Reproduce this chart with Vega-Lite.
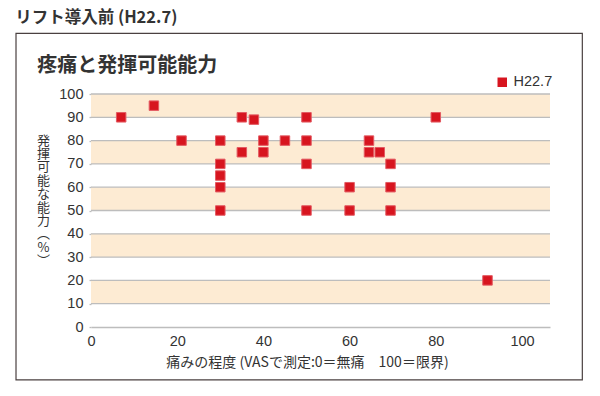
{
  "$schema": "https://vega.github.io/schema/vega-lite/v6.json",
  "autosize": {"type": "none"},
  "padding": {"left": 91, "top": 94, "right": 50, "bottom": 69},
  "width": 459,
  "height": 233,
  "background": "#ffffff",
  "config": {
    "view": {"stroke": null},
    "font": "Liberation Sans, Noto Sans CJK JP",
    "text": {"font": "Noto Sans CJK JP"}
  },
  "datasets": {
    "points": [
      {"pain": 7, "ability": 90, "series": "H22.7"},
      {"pain": 14.6, "ability": 95, "series": "H22.7"},
      {"pain": 21, "ability": 80, "series": "H22.7"},
      {"pain": 30, "ability": 80, "series": "H22.7"},
      {"pain": 30, "ability": 70, "series": "H22.7"},
      {"pain": 30, "ability": 65, "series": "H22.7"},
      {"pain": 30, "ability": 60, "series": "H22.7"},
      {"pain": 30, "ability": 50, "series": "H22.7"},
      {"pain": 35, "ability": 90, "series": "H22.7"},
      {"pain": 35, "ability": 75, "series": "H22.7"},
      {"pain": 37.8, "ability": 89, "series": "H22.7"},
      {"pain": 40, "ability": 80, "series": "H22.7"},
      {"pain": 40, "ability": 75, "series": "H22.7"},
      {"pain": 45, "ability": 80, "series": "H22.7"},
      {"pain": 50, "ability": 90, "series": "H22.7"},
      {"pain": 50, "ability": 80, "series": "H22.7"},
      {"pain": 50, "ability": 70, "series": "H22.7"},
      {"pain": 50, "ability": 50, "series": "H22.7"},
      {"pain": 60, "ability": 60, "series": "H22.7"},
      {"pain": 60, "ability": 50, "series": "H22.7"},
      {"pain": 64.5, "ability": 80, "series": "H22.7"},
      {"pain": 64.5, "ability": 75, "series": "H22.7"},
      {"pain": 67, "ability": 75, "series": "H22.7"},
      {"pain": 69.5, "ability": 70, "series": "H22.7"},
      {"pain": 69.5, "ability": 60, "series": "H22.7"},
      {"pain": 69.5, "ability": 50, "series": "H22.7"},
      {"pain": 80, "ability": 90, "series": "H22.7"},
      {"pain": 92, "ability": 20, "series": "H22.7"}
    ],
    "bands": [
      {"lo": 10, "hi": 20},
      {"lo": 30, "hi": 40},
      {"lo": 50, "hi": 60},
      {"lo": 70, "hi": 80},
      {"lo": 90, "hi": 100}
    ]
  },
  "layer": [
    {
      "data": {"name": "bands"},
      "mark": {"type": "rect", "fill": "#fdebd3"},
      "encoding": {
        "y": {"field": "lo", "type": "quantitative", "scale": {"domain": [0, 100], "nice": false},
          "axis": {
            "values": [0, 10, 20, 30, 40, 50, 60, 70, 80, 90, 100],
            "grid": false, "domain": false, "labelOverlap": false,
            "ticks": true, "tickSize": 2, "tickColor": "#bdbdbd", "tickWidth": 1.3,
            "labelFontSize": 14.5, "labelColor": "#333333", "labelPadding": 6,
            "labelFont": "Liberation Sans",
            "title": ["発", "揮", "可", "能", "な", "能", "力", "︵", "%", "︶"],
            "titleFont": "Noto Sans CJK JP", "titleFontSize": 13, "titleFontWeight": "normal",
            "titleColor": "#333333", "titleAngle": 0, "titleAlign": "center",
            "titleBaseline": "top", "titleLineHeight": 13.4,
            "titleX": -48, "titleY": 40
          }
        },
        "y2": {"field": "hi"}
      }
    },
    {
      "data": {"name": "bands"},
      "mark": {"type": "rule", "stroke": "#bdbdbd", "strokeWidth": 1.3},
      "encoding": {"y": {"field": "lo", "type": "quantitative",
          "axis": {
            "values": [0, 10, 20, 30, 40, 50, 60, 70, 80, 90, 100],
            "grid": false, "domain": false, "labelOverlap": false,
            "ticks": true, "tickSize": 2, "tickColor": "#bdbdbd", "tickWidth": 1.3,
            "labelFontSize": 14.5, "labelColor": "#333333", "labelPadding": 6,
            "labelFont": "Liberation Sans",
            "title": ["発", "揮", "可", "能", "な", "能", "力", "︵", "%", "︶"],
            "titleFont": "Noto Sans CJK JP", "titleFontSize": 13, "titleFontWeight": "normal",
            "titleColor": "#333333", "titleAngle": 0, "titleAlign": "center",
            "titleBaseline": "top", "titleLineHeight": 13.4,
            "titleX": -48, "titleY": 40
          }}}
    },
    {
      "data": {"name": "bands"},
      "mark": {"type": "rule", "stroke": "#bdbdbd", "strokeWidth": 1.3},
      "encoding": {"y": {"field": "hi", "type": "quantitative",
          "axis": {
            "values": [0, 10, 20, 30, 40, 50, 60, 70, 80, 90, 100],
            "grid": false, "domain": false, "labelOverlap": false,
            "ticks": true, "tickSize": 2, "tickColor": "#bdbdbd", "tickWidth": 1.3,
            "labelFontSize": 14.5, "labelColor": "#333333", "labelPadding": 6,
            "labelFont": "Liberation Sans",
            "title": ["発", "揮", "可", "能", "な", "能", "力", "︵", "%", "︶"],
            "titleFont": "Noto Sans CJK JP", "titleFontSize": 13, "titleFontWeight": "normal",
            "titleColor": "#333333", "titleAngle": 0, "titleAlign": "center",
            "titleBaseline": "top", "titleLineHeight": 13.4,
            "titleX": -48, "titleY": 40
          }}}
    },
    {
      "data": {"name": "points"},
      "mark": {"type": "point", "shape": "square", "filled": true, "opacity": 1, "size": 90, "stroke": "#e35a62", "strokeWidth": 1},
      "encoding": {
        "x": {"field": "pain", "type": "quantitative",
          "scale": {"domain": [0, 106.5], "nice": false},
          "axis": {
            "values": [0, 20, 40, 60, 80, 100],
            "grid": false, "ticks": false, "tickSize": 0, "labelFlush": false, "labelOverlap": false,
            "domain": true, "domainColor": "#bdbdbd", "domainWidth": 1.3,
            "labelFontSize": 14.5, "labelColor": "#333333", "labelPadding": 7,
            "labelFont": "Liberation Sans",
            "title": "痛みの程度 (VASで測定:0＝無痛　100＝限界)",
            "titleFont": "Noto Sans CJK JP", "titleFontSize": 14, "titleFontWeight": "normal",
            "titleColor": "#333333", "titleX": 216, "titleY": 35, "titleBaseline": "middle", "titleAlign": "center"
          }
        },
        "y": {"field": "ability", "type": "quantitative",
          "axis": {
            "values": [0, 10, 20, 30, 40, 50, 60, 70, 80, 90, 100],
            "grid": false, "domain": false, "labelOverlap": false,
            "ticks": true, "tickSize": 2, "tickColor": "#bdbdbd", "tickWidth": 1.3,
            "labelFontSize": 14.5, "labelColor": "#333333", "labelPadding": 6,
            "labelFont": "Liberation Sans",
            "title": ["発", "揮", "可", "能", "な", "能", "力", "︵", "%", "︶"],
            "titleFont": "Noto Sans CJK JP", "titleFontSize": 13, "titleFontWeight": "normal",
            "titleColor": "#333333", "titleAngle": 0, "titleAlign": "center",
            "titleBaseline": "top", "titleLineHeight": 13.4,
            "titleX": -48, "titleY": 40
          }
        },
        "color": {"field": "series", "type": "nominal",
          "scale": {"domain": ["H22.7"], "range": ["#d7151f"]},
          "legend": {
            "orient": "none", "legendX": 404, "legendY": -19, "title": null,
            "symbolType": "square", "symbolSize": 90, "symbolStrokeWidth": 0,
            "labelFontSize": 14.5, "labelColor": "#333333", "labelFont": "Liberation Sans",
            "labelOffset": 4, "padding": 0
          }
        }
      }
    },
    {
      "data": {"values": [{}]},
      "mark": {"type": "rect", "fill": null, "stroke": "#4a4040", "strokeWidth": 1.2},
      "encoding": {
        "x": {"datum": -17.4,
          "axis": {
            "values": [0, 20, 40, 60, 80, 100],
            "grid": false, "ticks": false, "tickSize": 0, "labelFlush": false, "labelOverlap": false,
            "domain": true, "domainColor": "#bdbdbd", "domainWidth": 1.3,
            "labelFontSize": 14.5, "labelColor": "#333333", "labelPadding": 7,
            "labelFont": "Liberation Sans",
            "title": "痛みの程度 (VASで測定:0＝無痛　100＝限界)",
            "titleFont": "Noto Sans CJK JP", "titleFontSize": 14, "titleFontWeight": "normal",
            "titleColor": "#333333", "titleX": 216, "titleY": 35, "titleBaseline": "middle", "titleAlign": "center"
          }},
        "x2": {"datum": 114.0},
        "y": {"datum": 126.0,
          "axis": {
            "values": [0, 10, 20, 30, 40, 50, 60, 70, 80, 90, 100],
            "grid": false, "domain": false, "labelOverlap": false,
            "ticks": true, "tickSize": 2, "tickColor": "#bdbdbd", "tickWidth": 1.3,
            "labelFontSize": 14.5, "labelColor": "#333333", "labelPadding": 6,
            "labelFont": "Liberation Sans",
            "title": ["発", "揮", "可", "能", "な", "能", "力", "︵", "%", "︶"],
            "titleFont": "Noto Sans CJK JP", "titleFontSize": 13, "titleFontWeight": "normal",
            "titleColor": "#333333", "titleAngle": 0, "titleAlign": "center",
            "titleBaseline": "top", "titleLineHeight": 13.4,
            "titleX": -48, "titleY": 40
          }},
        "y2": {"datum": -22.7}
      }
    },
    {
      "data": {"values": [{}]},
      "mark": {"type": "text", "text": "リフト導入前 (H22.7)", "align": "left", "baseline": "middle", "fontSize": 16.5, "fontWeight": "bold", "color": "#333333"},
      "encoding": {
        "x": {"datum": -17.6,
          "axis": {
            "values": [0, 20, 40, 60, 80, 100],
            "grid": false, "ticks": false, "tickSize": 0, "labelFlush": false, "labelOverlap": false,
            "domain": true, "domainColor": "#bdbdbd", "domainWidth": 1.3,
            "labelFontSize": 14.5, "labelColor": "#333333", "labelPadding": 7,
            "labelFont": "Liberation Sans",
            "title": "痛みの程度 (VASで測定:0＝無痛　100＝限界)",
            "titleFont": "Noto Sans CJK JP", "titleFontSize": 14, "titleFontWeight": "normal",
            "titleColor": "#333333", "titleX": 216, "titleY": 35, "titleBaseline": "middle", "titleAlign": "center"
          }},
        "y": {"datum": 132.6,
          "axis": {
            "values": [0, 10, 20, 30, 40, 50, 60, 70, 80, 90, 100],
            "grid": false, "domain": false, "labelOverlap": false,
            "ticks": true, "tickSize": 2, "tickColor": "#bdbdbd", "tickWidth": 1.3,
            "labelFontSize": 14.5, "labelColor": "#333333", "labelPadding": 6,
            "labelFont": "Liberation Sans",
            "title": ["発", "揮", "可", "能", "な", "能", "力", "︵", "%", "︶"],
            "titleFont": "Noto Sans CJK JP", "titleFontSize": 13, "titleFontWeight": "normal",
            "titleColor": "#333333", "titleAngle": 0, "titleAlign": "center",
            "titleBaseline": "top", "titleLineHeight": 13.4,
            "titleX": -48, "titleY": 40
          }}
      }
    },
    {
      "data": {"values": [{}]},
      "mark": {"type": "text", "text": "疼痛と発揮可能能力", "align": "left", "baseline": "middle", "fontSize": 20, "fontWeight": "bold", "color": "#333333"},
      "encoding": {
        "x": {"datum": -12.5,
          "axis": {
            "values": [0, 20, 40, 60, 80, 100],
            "grid": false, "ticks": false, "tickSize": 0, "labelFlush": false, "labelOverlap": false,
            "domain": true, "domainColor": "#bdbdbd", "domainWidth": 1.3,
            "labelFontSize": 14.5, "labelColor": "#333333", "labelPadding": 7,
            "labelFont": "Liberation Sans",
            "title": "痛みの程度 (VASで測定:0＝無痛　100＝限界)",
            "titleFont": "Noto Sans CJK JP", "titleFontSize": 14, "titleFontWeight": "normal",
            "titleColor": "#333333", "titleX": 216, "titleY": 35, "titleBaseline": "middle", "titleAlign": "center"
          }},
        "y": {"datum": 112.2,
          "axis": {
            "values": [0, 10, 20, 30, 40, 50, 60, 70, 80, 90, 100],
            "grid": false, "domain": false, "labelOverlap": false,
            "ticks": true, "tickSize": 2, "tickColor": "#bdbdbd", "tickWidth": 1.3,
            "labelFontSize": 14.5, "labelColor": "#333333", "labelPadding": 6,
            "labelFont": "Liberation Sans",
            "title": ["発", "揮", "可", "能", "な", "能", "力", "︵", "%", "︶"],
            "titleFont": "Noto Sans CJK JP", "titleFontSize": 13, "titleFontWeight": "normal",
            "titleColor": "#333333", "titleAngle": 0, "titleAlign": "center",
            "titleBaseline": "top", "titleLineHeight": 13.4,
            "titleX": -48, "titleY": 40
          }}
      }
    }
  ]
}
